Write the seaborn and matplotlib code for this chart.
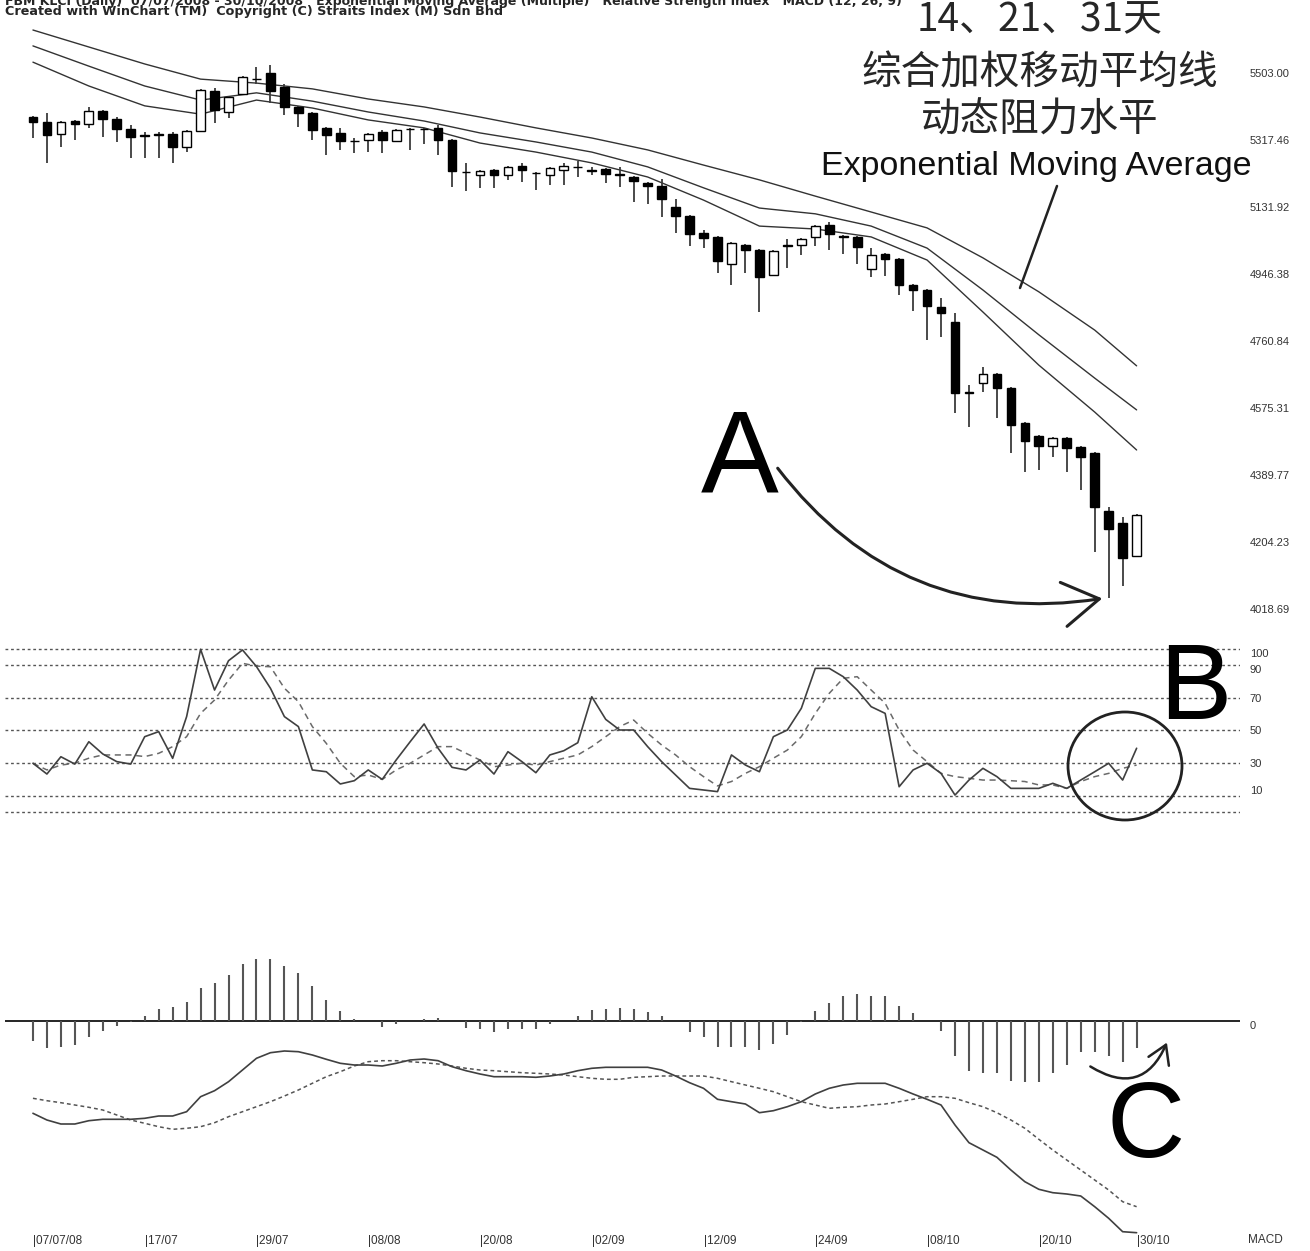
import numpy as np
import pandas as pd
import matplotlib
matplotlib.use("Agg")
import matplotlib.pyplot as plt
import seaborn as sns
from matplotlib.patches import Ellipse, FancyArrowPatch
from matplotlib.lines import Line2D

sns.set_style("white")
SANS = ['Liberation Sans', 'DejaVu Sans']
CJK = ['Noto Sans CJK SC', 'DejaVu Sans']
plt.rcParams['font.family'] = SANS

# daily candles, 07/07/08 .. 30/10/08
open_ = [5381, 5367, 5334, 5370, 5362, 5398, 5376, 5348, 5330, 5332,
         5334, 5298, 5342, 5453, 5395, 5445, 5487, 5503, 5464, 5409,
         5392, 5351, 5337, 5316, 5317, 5340, 5315, 5349, 5349, 5351,
         5317, 5230, 5221, 5234, 5221, 5245, 5227, 5221, 5234, 5244,
         5233, 5237, 5222, 5215, 5198, 5190, 5132, 5107, 5060, 5049,
         4974, 5027, 5013, 4944, 5027, 5027, 5049, 5082, 5052, 5049,
         4960, 5002, 4988, 4916, 4902, 4855, 4813, 4620, 4645, 4669,
         4631, 4534, 4498, 4470, 4492, 4467, 4451, 4290, 4257, 4166]
high = [5384, 5392, 5369, 5372, 5409, 5401, 5381, 5359, 5340, 5340,
        5340, 5344, 5458, 5461, 5439, 5494, 5520, 5525, 5473, 5411,
        5394, 5353, 5351, 5323, 5336, 5345, 5347, 5350, 5350, 5359,
        5320, 5254, 5234, 5236, 5245, 5254, 5228, 5242, 5254, 5259,
        5243, 5239, 5243, 5217, 5200, 5209, 5154, 5109, 5068, 5051,
        5034, 5029, 5015, 5012, 5043, 5045, 5081, 5090, 5053, 5051,
        5018, 5004, 4990, 4918, 4904, 4880, 4839, 4639, 4689, 4671,
        4633, 4536, 4500, 4494, 4494, 4469, 4453, 4301, 4274, 4281]
low = [5323, 5254, 5298, 5317, 5351, 5326, 5312, 5268, 5268, 5268,
       5254, 5284, 5340, 5365, 5378, 5443, 5473, 5420, 5387, 5353,
       5317, 5276, 5290, 5281, 5284, 5281, 5313, 5290, 5306, 5276,
       5187, 5176, 5185, 5185, 5207, 5201, 5179, 5193, 5193, 5215,
       5221, 5198, 5187, 5146, 5140, 5104, 5060, 5024, 5018, 4949,
       4916, 4949, 4841, 4942, 4963, 4999, 5024, 5013, 5002, 4974,
       4938, 4941, 4888, 4844, 4764, 4772, 4562, 4523, 4620, 4548,
       4451, 4398, 4404, 4440, 4398, 4348, 4177, 4049, 4082, 4164]
close = [5367, 5331, 5367, 5362, 5398, 5376, 5348, 5326, 5328, 5331,
         5298, 5342, 5456, 5401, 5437, 5492, 5485, 5453, 5409, 5392,
         5345, 5331, 5315, 5314, 5334, 5317, 5345, 5347, 5347, 5317,
         5232, 5228, 5232, 5221, 5243, 5234, 5225, 5240, 5245, 5242,
         5231, 5223, 5220, 5204, 5190, 5154, 5107, 5057, 5046, 4982,
         5032, 5013, 4938, 5010, 5025, 5043, 5079, 5057, 5049, 5021,
         4999, 4988, 4916, 4902, 4858, 4839, 4617, 4618, 4669, 4631,
         4528, 4484, 4470, 4492, 4465, 4440, 4301, 4240, 4160, 4279]

# exponential moving averages (14, 21, 31 days), read every 4 sessions
ema_idx = [0, 4, 8, 12, 16, 20, 24, 28, 32, 36, 40, 44, 48, 52, 56, 60, 64, 68, 72, 76, 79]
ema31 = [5622, 5575, 5528, 5486, 5475, 5459, 5431, 5409, 5381, 5351, 5323,
         5290, 5248, 5207, 5162, 5118, 5074, 4991, 4897, 4791, 4692]
ema21 = [5578, 5522, 5467, 5428, 5448, 5425, 5395, 5370, 5337, 5312, 5284,
         5243, 5185, 5129, 5113, 5079, 5018, 4902, 4778, 4658, 4570]
ema14 = [5533, 5467, 5412, 5389, 5428, 5406, 5373, 5351, 5309, 5284, 5254,
         5215, 5151, 5079, 5071, 5049, 4985, 4841, 4694, 4564, 4459]

price_ticks = [5503.00, 5317.46, 5131.92, 4946.38, 4760.84, 4575.31, 4389.77, 4204.23, 4018.69]

# RSI and its signal line
rsi = [29.9, 23.3, 33.9, 29.4, 43.1, 35.6, 30.9, 29.4, 46.2, 49.3,
       32.9, 58.5, 99.8, 74.8, 92.8, 99.4, 89.2, 75.9, 58.5, 52.4,
       25.8, 24.7, 17.2, 19.2, 25.8, 20.0, 31.9, 43.1, 54.0, 39.1,
       27.4, 25.8, 31.9, 23.3, 37.0, 30.9, 24.1, 35.0, 37.6, 42.5,
       70.7, 56.8, 50.3, 50.3, 40.1, 30.9, 22.7, 14.5, 13.5, 12.5,
       35.0, 28.8, 24.7, 46.2, 50.3, 63.6, 88.1, 88.1, 83.0, 74.8,
       64.6, 60.5, 15.5, 25.8, 29.9, 23.7, 10.4, 19.6, 26.8, 21.7,
       14.5, 14.5, 14.5, 17.6, 14.5, 19.6, 24.7, 29.9, 19.6, 39.1]
rsi_sig = [29.9, 25.8, 28.8, 29.9, 33.0, 35.0, 35.0, 35.0, 34.0, 36.0,
           40.1, 46.2, 60.5, 68.7, 80.9, 91.2, 89.5, 89.1, 75.9, 67.7,
           52.4, 42.1, 29.9, 21.7, 22.7, 20.0, 25.8, 29.9, 35.0, 40.1,
           40.1, 36.0, 31.9, 27.8, 28.8, 29.9, 28.8, 30.9, 33.0, 35.0,
           40.1, 46.2, 52.4, 56.4, 48.3, 41.1, 35.0, 27.8, 21.7, 16.0,
           18.7, 23.7, 27.8, 33.0, 38.0, 46.2, 60.5, 72.8, 82.0, 83.0,
           74.8, 66.7, 50.3, 38.0, 30.9, 23.7, 21.7, 20.7, 19.6, 19.6,
           19.2, 18.7, 16.6, 16.6, 14.5, 18.7, 21.7, 23.7, 26.8, 28.8]
rsi_levels = [0, 10, 30, 50, 70, 90, 100]

# MACD
macd_hist = [-19.7, -27, -25.7, -24, -16.3, -10, -5, -1, 5.3, 11.7,
             13.7, 19.3, 33.3, 38.3, 46, 56.7, 61.7, 61.7, 55.3, 47.7,
             35, 21, 10.3, 1.7, 0, -6.3, -3, 0, 1.7, 3.3,
             0, -6.7, -8.3, -10.7, -8.3, -8.3, -8.3, -3, 0, 5.3,
             11, 11.7, 13.3, 11.7, 9, 5.3, 0, -10.7, -16.3, -25.7,
             -25.7, -25.7, -29, -23, -14, -0.5, 10, 17.7, 25.3, 26.7,
             25.3, 25.3, 15.3, 7.7, 0, -10, -35, -49.7, -52.3, -52.3,
             -59.7, -61.3, -60.7, -52.3, -44, -30.7, -30.7, -35, -40.7, -27.3]
macd = [-92.3, -99, -103, -103, -99.7, -98.3, -98.3, -98.3, -97.3, -95,
        -95, -90.7, -75.7, -69.7, -60.7, -49, -37.3, -31.7, -30, -30.7,
        -34, -38.3, -42.3, -44, -44, -45, -42.3, -39, -38, -39.7,
        -45.7, -49.7, -53, -55.7, -55.7, -55.7, -56.3, -55, -53, -49.7,
        -47.3, -46.3, -46.3, -46.3, -46.3, -49, -55, -61.7, -67.3, -78.3,
        -80.7, -83, -91.7, -89.7, -85.7, -80.7, -73, -67.3, -64, -62.3,
        -62.3, -62.3, -67.3, -73, -78.3, -84, -104, -121.7, -129, -136.3,
        -149, -160.7, -168.3, -171.7, -173, -175, -185.7, -197.3, -210.7, -211.7]
macd_sig = [-77.3, -79.7, -81.7, -84, -86.3, -89, -94, -99, -102.3, -105.7,
            -108.3, -107.3, -105.7, -101.7, -95.7, -90.7, -85.7, -80.7, -75, -69,
            -62.3, -55.7, -50.7, -45, -40.7, -39.7, -39.7, -40.7, -41.7, -43,
            -45, -47.3, -49, -49.7, -50.7, -51.7, -52.3, -53, -54, -55.7,
            -57.3, -58.3, -58.3, -56.3, -55.7, -55, -55, -55, -55, -57.3,
            -60.7, -64, -67.3, -70.7, -75.7, -80.7, -84, -87.3, -86.3, -85.7,
            -84, -83, -80.7, -78.3, -75.7, -75.7, -77.3, -81.7, -85.7, -91.7,
            -99, -107.3, -118.3, -129, -139, -149, -159, -169, -180.7, -185.7]

date_pos = [0, 8, 16, 24, 32, 40, 48, 56, 64, 72, 79]
date_labels = ['|07/07/08', '|17/07', '|29/07', '|08/08', '|20/08', '|02/09',
               '|12/09', '|24/09', '|08/10', '|20/10', '|30/10']

n = len(close)
df = pd.DataFrame({'i': np.arange(n), 'o': open_, 'h': high, 'l': low, 'c': close,
                   'rsi': rsi, 'rsi_sig': rsi_sig, 'bar': macd_hist,
                   'macd': macd, 'macd_sig': macd_sig})

W, H = 1310, 1251
def fx(px):
    return px / W
def fy(py):
    return 1 - py / H

fig = plt.figure(figsize=(W / 100, H / 100), dpi=100)
left, right = fx(5), fx(1240)
ax_p = fig.add_axes([left, fy(625), right - left, fy(22) - fy(625)])
ax_r = fig.add_axes([left, fy(820), right - left, fy(640) - fy(820)])
ax_m = fig.add_axes([left, fy(1234), right - left, fy(840) - fy(1234)])

# ---- price panel
up = df['c'] >= df['o']
lo = np.minimum(df['o'], df['c'])
hgt = np.maximum((df['c'] - df['o']).abs(), 2.0)
ax_p.vlines(df['i'], df['l'], df['h'], color='#3c3c3c', lw=1.3, zorder=2)
ax_p.bar(df['i'][up], hgt[up], bottom=lo[up], width=0.62, facecolor='white',
         edgecolor='black', lw=1.0, zorder=3)
ax_p.bar(df['i'][~up], hgt[~up], bottom=lo[~up], width=0.62, facecolor='black',
         edgecolor='black', lw=1.0, zorder=3)
for ema in (ema31, ema21, ema14):
    sns.lineplot(x=ema_idx, y=ema, ax=ax_p, color='#333333', lw=1.0, zorder=1)
ax_p.set_ylim(3974.3, 5644.2)
ax_p.set_yticks(price_ticks)
ax_p.set_yticklabels([f'{t:.2f}' for t in price_ticks])
ax_p.set_xticks([])

# ---- RSI panel
for lv in rsi_levels:
    ax_r.axhline(lv, color='#555555', lw=1.0, ls=(0, (2, 2)), zorder=1)
sns.lineplot(data=df, x='i', y='rsi_sig', ax=ax_r, color='#6a6a6a', lw=1.1,
             ls=(0, (4, 3)), zorder=2)
sns.lineplot(data=df, x='i', y='rsi', ax=ax_r, color='#404040', lw=1.2, zorder=3)
ax_r.set_ylim(-4.9, 105.5)
ax_r.set_yticks([100, 90, 70, 50, 30, 10])
ax_r.set_yticklabels(['100', '90', '70', '50', '30', '10'])
ax_r.set_xticks([])

# ---- MACD panel
ax_m.axhline(0, color='black', lw=1.2, zorder=1)
ax_m.vlines(df['i'], 0, df['bar'], color='#555555', lw=1.5, zorder=2)
sns.lineplot(data=df, x='i', y='macd_sig', ax=ax_m, color='#555555', lw=1.1,
             ls=(0, (2.5, 2)), zorder=3)
sns.lineplot(data=df, x='i', y='macd', ax=ax_m, color='#404040', lw=1.2, zorder=3)
ax_m.set_ylim(-213, 181)
ax_m.set_yticks([0])
ax_m.set_yticklabels(['0'])
ax_m.set_xticks(date_pos)
ax_m.set_xticklabels(date_labels)
ax_m.tick_params(axis='x', length=0, pad=1, labelsize=8.5, colors='#333333')
for lbl in ax_m.get_xticklabels():
    lbl.set_ha('left')

for ax in (ax_p, ax_r, ax_m):
    ax.set_xlim(-2.0, 86.4)
    for s in ax.spines.values():
        s.set_visible(False)
    ax.yaxis.tick_right()
    ax.tick_params(axis='y', length=0, pad=7, labelsize=8, colors='#333333')
    ax.set_xlabel('')
    ax.set_ylabel('')

for lbl in ax_r.get_yticklabels():
    if lbl.get_text() in ('100', '90'):
        lbl.set_va('top')
    elif lbl.get_text() == '10':
        lbl.set_va('bottom')
for lbl in ax_m.get_yticklabels():
    lbl.set_va('top')

fig.text(fx(1265), fy(1240), 'MACD', ha='center', va='center', fontsize=8.5, color='#333333')

# ---- header (first line is clipped by the top edge, as in the original)
HEAD = ['DejaVu Sans']
fig.text(fx(5), fy(1), 'FBM KLCI (Daily)  07/07/2008 - 30/10/2008   Exponential Moving Average (Multiple)   '
         'Relative Strength Index   MACD (12, 26, 9)', ha='left', va='center', fontsize=9,
         weight='bold', family=HEAD)
fig.text(fx(5), fy(12), 'Created with WinChart (TM)  Copyright (C) Straits Index (M) Sdn Bhd',
         ha='left', va='center', fontsize=9.2, weight='bold', family=HEAD)

# ---- annotations
fig.text(fx(1040), fy(20), '14、21、31天', ha='center', va='center', fontsize=28, family=CJK, color='#262626')
fig.text(fx(1040), fy(73), '综合加权移动平均线', ha='center', va='center', fontsize=28.5, family=CJK, color='#262626')
fig.text(fx(1040), fy(121), '动态阻力水平', ha='center', va='center', fontsize=28.5, family=CJK, color='#262626')
fig.text(fx(1036), fy(166), 'Exponential Moving Average', ha='center', va='center', fontsize=24.5, color='#111111')
fig.add_artist(Line2D([fx(1020), fx(1057)], [fy(288), fy(186)], transform=fig.transFigure,
                      color='#222222', lw=1.8))

fig.text(fx(740), fy(462), 'A', ha='center', va='center', fontsize=84, color='black')
fig.text(fx(1195), fy(691), 'B', ha='center', va='center', fontsize=78, color='black')
fig.text(fx(1146), fy(1129), 'C', ha='center', va='center', fontsize=78, color='black')

fig.add_artist(FancyArrowPatch((fx(776), fy(466)), (fx(1105), fy(598)), transform=fig.transFigure,
                               connectionstyle='arc3,rad=0.3', arrowstyle='->,head_length=2.6,head_width=1.6',
                               mutation_scale=10, color='#222222', lw=2.2))
fig.add_artist(Ellipse((fx(1125), fy(766)), 114 / W, 108 / H, transform=fig.transFigure,
                       fill=False, edgecolor='#222222', lw=2.0))
fig.add_artist(FancyArrowPatch((fx(1088), fy(1065)), (fx(1168), fy(1040)), transform=fig.transFigure,
                               connectionstyle='arc3,rad=0.6', arrowstyle='->,head_length=1.3,head_width=0.8',
                               mutation_scale=10, color='#222222', lw=1.8))

fig.savefig('out.png', dpi=100)
